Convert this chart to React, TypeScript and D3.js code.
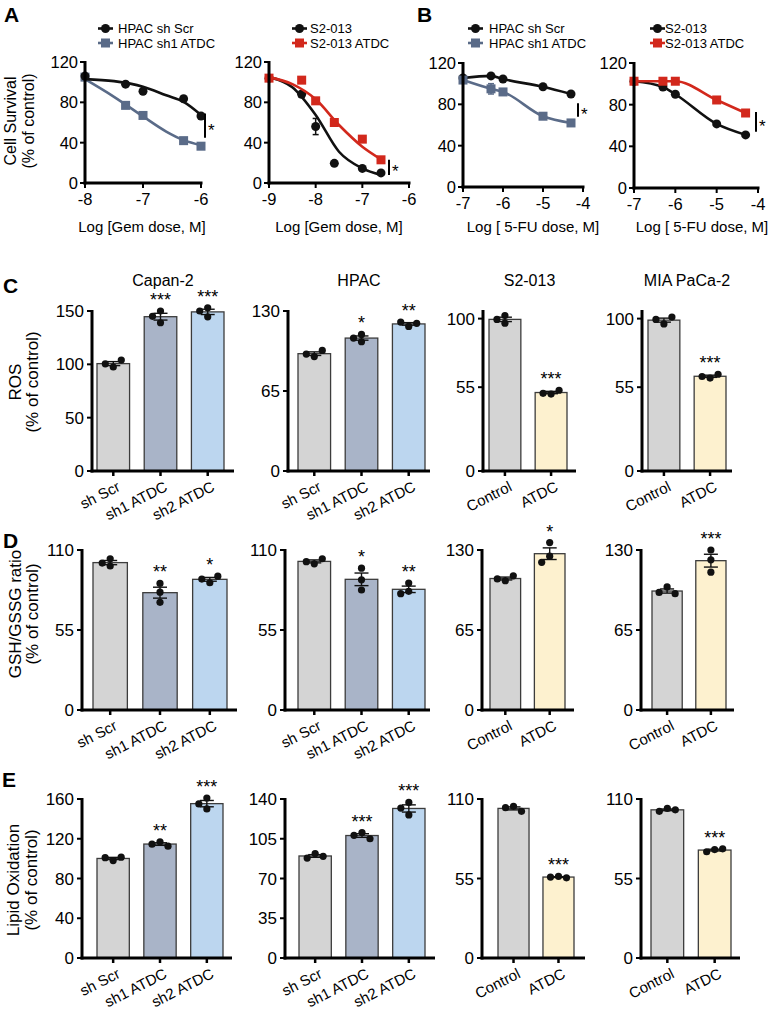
import React from 'react';
import * as d3 from 'd3';

const FONT = '"Liberation Sans", Arial, Helvetica, sans-serif';

// ---------- A / B : dose response ----------
const gemDosesA1 = [-8, -7.3, -7, -6.3, -6];
const hpacScrGem = [106, 98, 91, 83.5, 66.5];
const hpacScrGemErr = [0, 0, 2.5, 0, 0];
const hpacSh1Gem = [105, 77, 67, 42, 36.5];
const fitDosesA1 = [-8, -7.5, -7, -6.6, -6.3, -6];
const hpacScrGemFit = [103, 101, 95.5, 87, 80.5, 67.5];
const hpacSh1GemFit = [103, 85.5, 66, 51, 42.5, 37.5];

const gemDosesA2 = [-9, -8.3, -8, -7.6, -7, -6.6];
const s2Gem = [104, 88, 56, 19.5, 14.5, 10];
const s2GemErr = [0, 3, 8, 0, 0, 0];
const s2AtdcGem = [104, 102, 81.5, 60, 43.5, 23];
const fitDosesA2 = [-9, -8.5, -8, -7.5, -7, -6.6];
const s2GemFit = [105, 95, 67.5, 31, 14.5, 8];
const s2AtdcGemFit = [105, 98, 83, 57.5, 36, 23.5];

const fuDoses = [-7, -6.3, -6, -5, -4.3];
const hpacScrFu = [105.5, 107.5, 104.5, 97, 90];
const hpacSh1Fu = [103.5, 95, 92, 68.5, 62];
const hpacSh1FuErr = [0, 5, 0, 0, 0];
const s2Fu = [102.5, 97, 90, 61.5, 51];
const s2AtdcFu = [102.5, 102.5, 102.5, 84.5, 72];

// significance brackets (value range) for A1, A2, B1, B2
const sigA1 = [45, 69];
const sigA2 = [8, 23];
const sigB1 = [68, 81];
const sigB2 = [54, 73];

// ---------- C / D / E : bar charts (replicates) ----------
const shCats = ['sh Scr', 'sh1 ATDC', 'sh2 ATDC'];
const ctrlCats = ['Control', 'ATDC'];
const cellLines = ['Capan-2', 'HPAC', 'S2-013', 'MIA PaCa-2'];

const rosCapan = [[97.5, 100.5, 104], [150, 145, 139], [144.5, 150, 153]];
const rosHpac = [[93, 95, 98], [111, 108, 105], [117.5, 121, 120]];
const rosS2 = [[97, 99.5, 102], [50.5, 51, 53]];
const rosMia = [[96.5, 99.5, 101], [61, 62, 63.5]];

const gshCapan = [[104, 99, 101], [87, 81, 74], [87.5, 90, 92]];
const gshHpac = [[100.5, 102, 104], [97.5, 89.5, 82.5], [87.3, 81.6, 80]];
const gshS2 = [[105, 106.5, 109], [136, 125, 120]];
const gshMia = [[100, 95.5, 94.5], [130, 122, 112]];

const lipCapan = [[98, 101, 101.5], [117, 114.5, 112.5], [161, 155, 150]];
const lipHpac = [[92, 88, 89.5], [110.5, 108, 105], [137, 132, 126]];
const lipS2 = [[105, 104, 101.5], [56.5, 56, 55.5]];
const lipMia = [[103.5, 101.5, 102.5], [75, 73.5, 75.5]];

const starsRos = [['', '***', '***'], ['', '*', '**'], ['', '***'], ['', '***']];
const starsGsh = [['', '**', '*'], ['', '*', '**'], ['', '*'], ['', '***']];
const starsLip = [['', '**', '***'], ['', '***', '***'], ['', '***'], ['', '***']];

const ticksRos = [[0, 50, 100, 150], [0, 65, 130], [0, 55, 100], [0, 55, 100]];
const ticksGsh = [[0, 55, 110], [0, 55, 110], [0, 65, 130], [0, 65, 130]];
const ticksLip = [[0, 40, 80, 120, 160], [0, 35, 70, 105, 140], [0, 55, 110], [0, 55, 110]];
const maxRos = [150, 130, 105, 105];
const maxGsh = [110, 110, 130, 130];
const maxLip = [160, 140, 110, 110];

const BLACK = '#111';
const SLATE = '#5a6b88';
const RED = '#d2281c';
const shFills = ['#d4d4d4', '#a9b4c8', '#bcd6ef'];
const ctrlFills = ['#d4d4d4', '#fdf1cf'];

// layout per bar panel: [axisX, barLeft, barRight, axisEnd]
const layC = [[92, 97, 224, 234], [288, 298, 425, 430], [483, 489, 567, 576], [642, 648, 726, 732]];
const layD = [[82, 93, 227, 237], [285, 298, 425, 430], [482, 490, 565, 574], [641, 652, 726, 734]];
const layE = [[82, 97, 223, 232], [285, 299, 425, 435], [482, 498, 574, 585], [641, 651, 731, 740]];

type Series = {
  doses: number[]; vals: number[]; err?: number[];
  fitDoses?: number[]; fit?: number[];
  color: string; shape: 'circle' | 'square'; name: string;
};

function Marker({ x, y, shape, color }: { x: number; y: number; shape: string; color: string }) {
  return shape === 'circle'
    ? <circle cx={x} cy={y} r={4.5} fill={color} />
    : <rect x={x - 4.5} y={y - 4.5} width={9} height={9} fill={color} />;
}

function DosePanel(props: {
  x0: number; x1: number; xDom: [number, number]; xTicks: number[]; yB: number; yT: number;
  series: Series[]; legend: Series[]; title: string; titleX: number; legX: number; legTx: number;
  sig: number[]; sigX: number;
}) {
  const { x0, x1, xDom, xTicks, yB, yT, series } = props;
  const x = d3.scaleLinear().domain(xDom).range([x0, x1]);
  const y = d3.scaleLinear().domain([0, 120]).range([yB, yT]);
  const line = d3.line<[number, number]>().x(d => x(d[0])).y(d => y(d[1])).curve(d3.curveMonotoneX);
  return (
    <g>
      {series.map((s, i) => {
        const fd = s.fitDoses ?? s.doses;
        const fv = s.fit ?? s.vals;
        return (
          <g key={i}>
            <path d={line(fd.map((d, j) => [d, fv[j]]) as [number, number][]) ?? ''} fill="none" stroke={s.color} strokeWidth={2.6} />
            {s.doses.map((d, j) => (
              <g key={j}>
                {s.err && s.err[j] > 0 && (
                  <g stroke={s.color} strokeWidth={1.5}>
                    <line x1={x(d)} x2={x(d)} y1={y(s.vals[j] - s.err[j])} y2={y(s.vals[j] + s.err[j])} />
                    <line x1={x(d) - 3} x2={x(d) + 3} y1={y(s.vals[j] - s.err[j])} y2={y(s.vals[j] - s.err[j])} />
                    <line x1={x(d) - 3} x2={x(d) + 3} y1={y(s.vals[j] + s.err[j])} y2={y(s.vals[j] + s.err[j])} />
                  </g>
                )}
                <Marker x={x(d)} y={y(s.vals[j])} shape={s.shape} color={s.color} />
              </g>
            ))}
          </g>
        );
      })}
      {/* axes */}
      <line x1={x0} x2={x0} y1={yT - 1} y2={yB + 1.5} stroke="#000" strokeWidth={3} />
      <line x1={x0 - 1.5} x2={x1 + 1.5} y1={yB} y2={yB} stroke="#000" strokeWidth={3} />
      {[0, 40, 80, 120].map(t => (
        <g key={t}>
          <line x1={x0 - 5} x2={x0} y1={y(t)} y2={y(t)} stroke="#000" strokeWidth={2} />
          <text x={x0 - 7} y={y(t) + 6} fontSize={16.5} textAnchor="end">{t}</text>
        </g>
      ))}
      {xTicks.map(t => (
        <g key={t}>
          <line x1={x(t)} x2={x(t)} y1={yB} y2={yB + 5} stroke="#000" strokeWidth={2} />
          <text x={x(t)} y={yB + 22} fontSize={16.5} textAnchor="middle">{t}</text>
        </g>
      ))}
      <text x={props.titleX} y={232} fontSize={15} textAnchor="middle">{props.title}</text>
      {/* legend */}
      {props.legend.map((s, i) => (
        <g key={'l' + i}>
          <line x1={props.legX} x2={props.legX + 15} y1={28.5 + i * 14.5} y2={28.5 + i * 14.5} stroke={s.color} strokeWidth={2.6} />
          <Marker x={props.legX + 7.5} y={28.5 + i * 14.5} shape={s.shape} color={s.color} />
          <text x={props.legTx} y={33 + i * 14.5} fontSize={13}>{s.name}</text>
        </g>
      ))}
      {/* significance */}
      <line x1={props.sigX} x2={props.sigX} y1={y(props.sig[1])} y2={y(props.sig[0])} stroke="#000" strokeWidth={2} />
      <text x={props.sigX + 3} y={(y(props.sig[0]) + y(props.sig[1])) / 2 + 10} fontSize={17}>*</text>
    </g>
  );
}

function swarm(vals: number[], y: (v: number) => number) {
  const placed: { dx: number; y: number }[] = [];
  vals.forEach(v => {
    const py = y(v);
    const cands = [0, -8, 8, -16, 16];
    let dx = 0;
    for (const c of cands) {
      if (placed.every(q => Math.hypot(q.dx - c, q.y - py) >= 7)) { dx = c; break; }
    }
    placed.push({ dx, y: py });
  });
  return placed;
}

function BarPanel(props: {
  lay: number[]; bottom: number; top: number; max: number; ticks: number[];
  cats: string[]; reps: number[][]; stars: string[]; fills: string[]; title?: string;
}) {
  const [ax, bl, br, ae] = props.lay;
  const { bottom, top, cats, reps } = props;
  const y = d3.scaleLinear().domain([0, props.max]).range([bottom, top]);
  const x = d3.scaleBand().domain(cats).range([bl, br]).paddingInner(0.31).paddingOuter(0);
  const bw = x.bandwidth();
  return (
    <g>
      {props.title && (
        <text x={(ax + ae) / 2} y={286} fontSize={16} textAnchor="middle">{props.title}</text>
      )}
      {cats.map((c, i) => {
        const vals = reps[i];
        const m = d3.mean(vals) as number;
        const sem = (d3.deviation(vals) as number) / Math.sqrt(vals.length);
        const cx = (x(c) as number) + bw / 2;
        const dots = swarm(vals, y);
        const topY = Math.min(y(d3.max(vals) as number), y(m + sem));
        return (
          <g key={c}>
            <rect x={x(c)} y={y(m)} width={bw} height={bottom - y(m)} fill={props.fills[i]} stroke="#3c3c3c" strokeWidth={1.3} />
            <g stroke="#111" strokeWidth={1.4}>
              <line x1={cx} x2={cx} y1={y(m - sem)} y2={y(m + sem)} />
              <line x1={cx - 7} x2={cx + 7} y1={y(m + sem)} y2={y(m + sem)} />
              <line x1={cx - 7} x2={cx + 7} y1={y(m - sem)} y2={y(m - sem)} />
            </g>
            {dots.map((d, j) => <circle key={j} cx={cx + d.dx} cy={d.y} r={3.6} fill="#111" />)}
            {props.stars[i] && (
              <text x={cx} y={topY - 5} fontSize={18} textAnchor="middle">{props.stars[i]}</text>
            )}
            <line x1={cx} x2={cx} y1={bottom} y2={bottom + 5} stroke="#000" strokeWidth={2.5} />
            <text transform={`translate(${cx + 8},${bottom + 19}) rotate(-27)`} fontSize={15} textAnchor="end">{c}</text>
          </g>
        );
      })}
      <line x1={ax} x2={ax} y1={top - 1} y2={bottom + 1.5} stroke="#000" strokeWidth={3} />
      <line x1={ax - 1.5} x2={ae} y1={bottom} y2={bottom} stroke="#000" strokeWidth={3} />
      {props.ticks.map(t => (
        <g key={t}>
          <line x1={ax - 5} x2={ax} y1={y(t)} y2={y(t)} stroke="#000" strokeWidth={2} />
          <text x={ax - 8} y={y(t) + 6} fontSize={17} textAnchor="end">{t}</text>
        </g>
      ))}
    </g>
  );
}

function YTitle({ lines, cy, xs, size }: { lines: string[]; cy: number; xs: number[]; size: number }) {
  return (
    <g>
      {lines.map((l, i) => (
        <text key={i} transform={`translate(${xs[i]},${cy}) rotate(-90)`} fontSize={size} textAnchor="middle">{l}</text>
      ))}
    </g>
  );
}

function BarRow(props: {
  lay: number[][]; bottom: number; top: number; maxs: number[]; ticks: number[][];
  data: number[][][]; stars: string[][]; titles?: boolean;
}) {
  return (
    <g>
      {props.data.map((reps, i) => (
        <BarPanel key={i} lay={props.lay[i]} bottom={props.bottom} top={props.top} max={props.maxs[i]}
          ticks={props.ticks[i]} cats={i < 2 ? shCats : ctrlCats} reps={reps} stars={props.stars[i]}
          fills={i < 2 ? shFills : ctrlFills} title={props.titles ? cellLines[i] : undefined} />
      ))}
    </g>
  );
}

export default function App() {
  const a1Scr: Series = { doses: gemDosesA1, vals: hpacScrGem, err: hpacScrGemErr, fitDoses: fitDosesA1, fit: hpacScrGemFit, color: BLACK, shape: 'circle', name: 'HPAC sh Scr' };
  const a1Sh1: Series = { doses: gemDosesA1, vals: hpacSh1Gem, fitDoses: fitDosesA1, fit: hpacSh1GemFit, color: SLATE, shape: 'square', name: 'HPAC sh1 ATDC' };
  const a2S2: Series = { doses: gemDosesA2, vals: s2Gem, err: s2GemErr, fitDoses: fitDosesA2, fit: s2GemFit, color: BLACK, shape: 'circle', name: 'S2-013' };
  const a2Atdc: Series = { doses: gemDosesA2, vals: s2AtdcGem, fitDoses: fitDosesA2, fit: s2AtdcGemFit, color: RED, shape: 'square', name: 'S2-013 ATDC' };
  const b1Scr: Series = { doses: fuDoses, vals: hpacScrFu, color: BLACK, shape: 'circle', name: 'HPAC sh Scr' };
  const b1Sh1: Series = { doses: fuDoses, vals: hpacSh1Fu, err: hpacSh1FuErr, color: SLATE, shape: 'square', name: 'HPAC sh1 ATDC' };
  const b2S2: Series = { doses: fuDoses, vals: s2Fu, color: BLACK, shape: 'circle', name: 'S2-013' };
  const b2Atdc: Series = { doses: fuDoses, vals: s2AtdcFu, color: RED, shape: 'square', name: 'S2-013 ATDC' };
  return (
    <svg width={770} height={1014} style={{ position: 'absolute', left: 0, top: 0, background: '#fff' }}>
      <g fontFamily={FONT} fill="#000">
        {/* panel letters */}
        <text x={4} y={22} fontSize={21} fontWeight="bold">A</text>
        <text x={417} y={22} fontSize={21} fontWeight="bold">B</text>
        <text x={3} y={293} fontSize={21} fontWeight="bold">C</text>
        <text x={3} y={548} fontSize={21} fontWeight="bold">D</text>
        <text x={2} y={787} fontSize={21} fontWeight="bold">E</text>

        <YTitle lines={['Cell Survival', '(% of control)']} cy={121} xs={[16, 34]} size={16} />
        <DosePanel x0={85} x1={201} xDom={[-8, -6]} xTicks={[-8, -7, -6]} yB={183} yT={62}
          series={[a1Sh1, a1Scr]} legend={[a1Scr, a1Sh1]}
          title="Log [Gem dose, M]" titleX={142} legX={98} legTx={118} sig={sigA1} sigX={205} />
        <DosePanel x0={269} x1={409} xDom={[-9, -6]} xTicks={[-9, -8, -7, -6]} yB={183} yT={62}
          series={[a2S2, a2Atdc]} legend={[a2S2, a2Atdc]}
          title="Log [Gem dose, M]" titleX={339} legX={292} legTx={310} sig={sigA2} sigX={389} />
        <DosePanel x0={463} x1={583} xDom={[-7, -4]} xTicks={[-7, -6, -5, -4]} yB={187} yT={63}
          series={[b1Scr, b1Sh1]} legend={[b1Scr, b1Sh1]}
          title="Log [ 5-FU dose, M]" titleX={533} legX={468} legTx={489} sig={sigB1} sigX={578} />
        <DosePanel x0={634} x1={758} xDom={[-7, -4]} xTicks={[-7, -6, -5, -4]} yB={188} yT={63}
          series={[b2S2, b2Atdc]} legend={[b2S2, b2Atdc]}
          title="Log [ 5-FU dose, M]" titleX={702} legX={650} legTx={665} sig={sigB2} sigX={756} />

        <YTitle lines={['ROS', '(% of control)']} cy={382} xs={[21, 38]} size={17} />
        <BarRow lay={layC} bottom={471} top={311} maxs={maxRos} ticks={ticksRos}
          data={[rosCapan, rosHpac, rosS2, rosMia]} stars={starsRos} titles />

        <YTitle lines={['GSH/GSSG ratio', '(% of control)']} cy={614} xs={[21, 38]} size={17} />
        <BarRow lay={layD} bottom={710} top={550} maxs={maxGsh} ticks={ticksGsh}
          data={[gshCapan, gshHpac, gshS2, gshMia]} stars={starsGsh} />

        <YTitle lines={['Lipid Oxidation', '(% of control)']} cy={880} xs={[19, 37]} size={17} />
        <BarRow lay={layE} bottom={958} top={799} maxs={maxLip} ticks={ticksLip}
          data={[lipCapan, lipHpac, lipS2, lipMia]} stars={starsLip} />
      </g>
    </svg>
  );
}
